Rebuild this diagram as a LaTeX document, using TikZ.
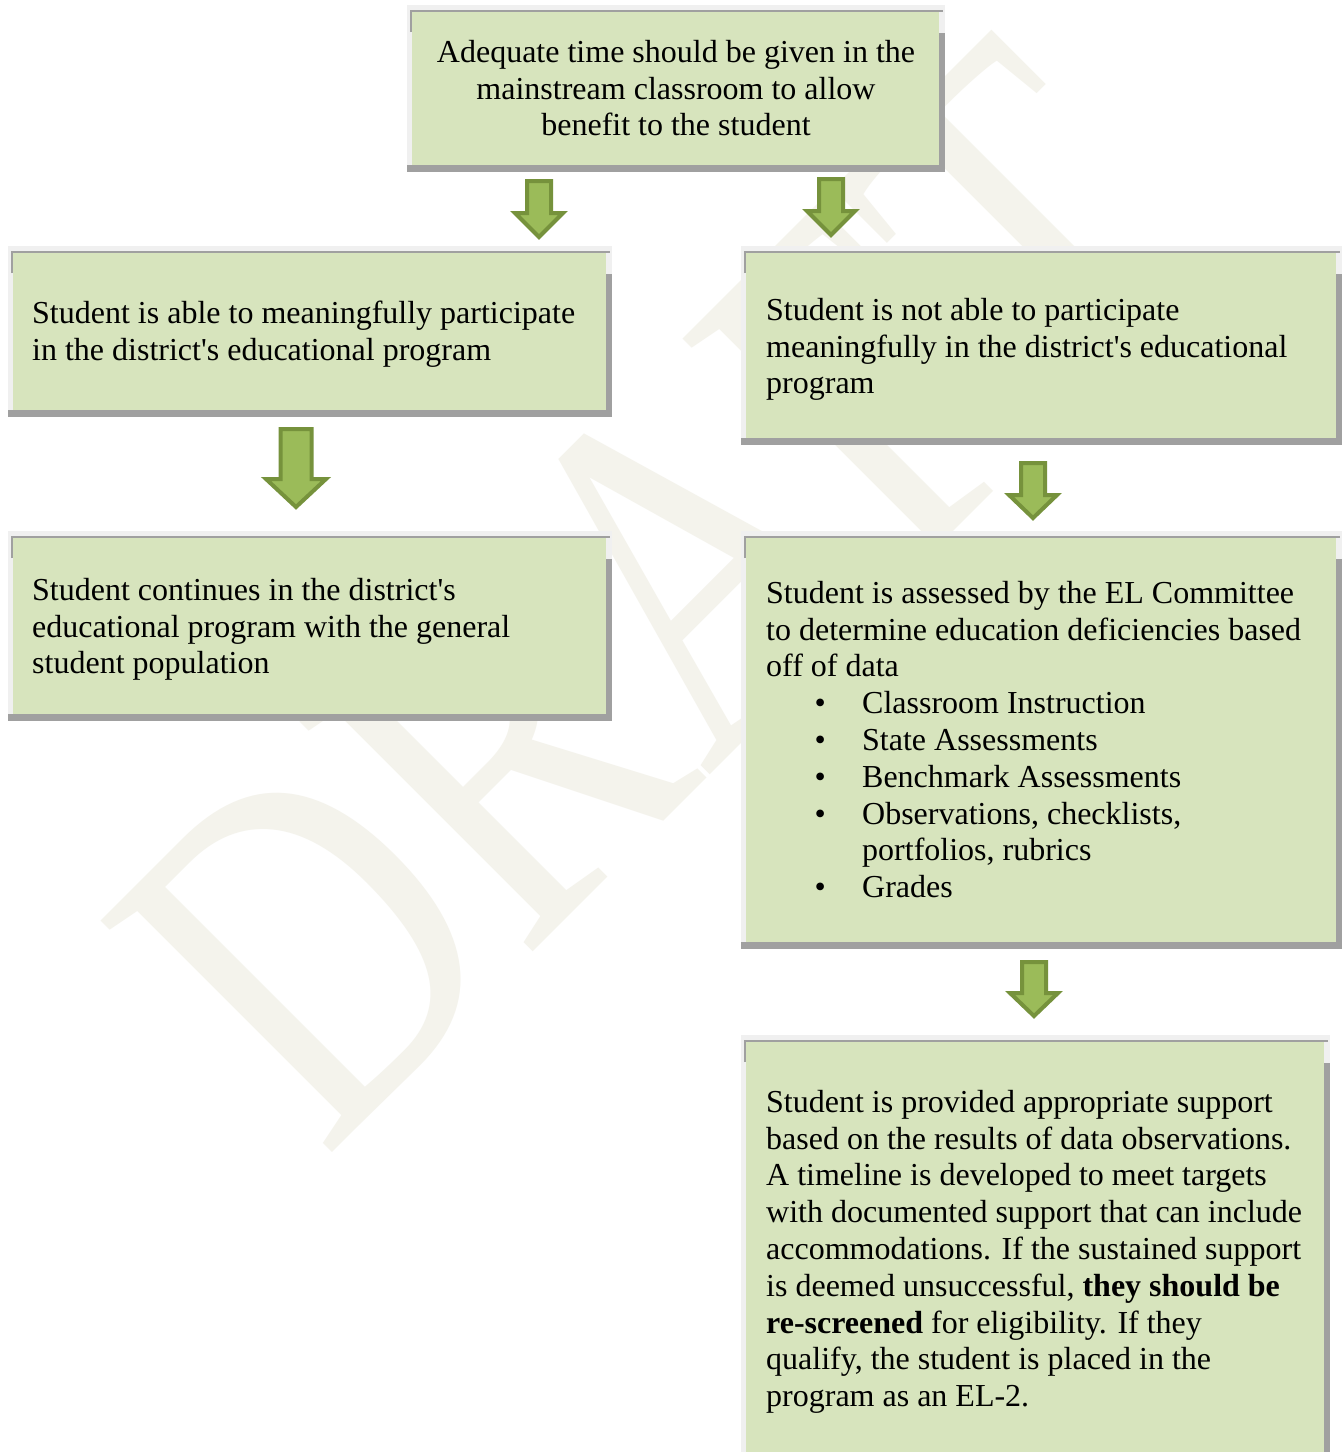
\documentclass[tikz,border=0pt]{standalone}
\usepackage{fontspec}
\setmainfont{Liberation Serif}
\definecolor{boxgreen}{HTML}{D7E4BD}
\definecolor{shadowgray}{HTML}{A0A0A0}
\definecolor{bandgray}{HTML}{F0F0F0}
\definecolor{arrowfill}{HTML}{9BBB59}
\definecolor{arrowline}{HTML}{76923C}
\definecolor{wmark}{HTML}{F4F3EC}
\tikzset{
  greenbox/.style={rectangle, fill=boxgreen, draw=none, inner sep=0pt, anchor=north west},
  boxtext/.style={inner sep=0pt, font=\fontsize{32}{36.8}\selectfont, text=black},
  blockarrow/.style={fill=arrowfill, draw=arrowline, line width=4pt, line join=miter},
  topline/.style={draw=shadowgray, line width=2pt},
  watermark/.style={inner sep=0pt, font=\fontsize{500}{500}\selectfont, text=wmark, rotate=45, anchor=base west}
}
\newcommand\flowbox[5]{%
  \pgfmathsetmacro{\bw}{#3-#1-11}%
  \pgfmathsetmacro{\bh}{#4-#2-14}%
  \fill[bandgray] (#1,#2) rectangle (#3,#4);
  \node[greenbox, minimum width=\bw pt, minimum height=\bh pt] (#5) at ({#1+5},{#2+7}) {};
  \fill[shadowgray] (#1,{#4-7}) rectangle (#3,#4);
  \fill[shadowgray] ({#3-6},{#2+28}) rectangle (#3,#4);
  \draw[topline] ({#1+4},{#2+27}) -- ({#1+4},{#2+6}) -- ({#3-2},{#2+6});
}
\newcommand\blockdown[6]{%
  \draw[blockarrow] ({#1-#5},#2) -- ({#1+#5},#2) -- ({#1+#5},#3) -- ({#1+#6},#3)
    -- (#1,#4) -- ({#1-#6},#3) -- ({#1-#5},#3) -- cycle;
}
\newcommand\fl{\rule{0pt}{25pt}}
\newcommand\ap{\textquotesingle}
\newcommand\bul[1]{\hspace*{54pt}\makebox[0pt]{•}\hspace*{42pt}#1}
\begin{document}
\begin{tikzpicture}[x=1pt,y=-1pt]
\useasboundingbox (0,0) rectangle (1342,1452);
\fill[white] (0,0) rectangle (1342,1452);
% watermark
\node[watermark] (wm) at (324,1161) {\scalebox{0.78}[1]{DRAFT}};
% boxes
\flowbox{407}{5}{945}{172}{b0}
\flowbox{8}{246}{612}{417}{b1}
\flowbox{741}{246}{1342}{445}{b2}
\flowbox{8}{531}{612}{721}{b3}
\flowbox{741}{531}{1342}{949}{b4}
\flowbox{741}{1035}{1330}{1480}{b5}
% arrows
\blockdown{539}{181}{213}{237}{12}{24}
\blockdown{831}{179}{211}{235}{12}{24}
\blockdown{296}{429}{479}{507}{15.5}{30}
\blockdown{1033}{463}{495}{518}{12}{24}
\blockdown{1034}{962}{993}{1016}{12}{24}
% texts
\node[boxtext, anchor=north, align=center] (t0) at (676,37)
  {\fl Adequate time should be given in the\\mainstream classroom to allow\\benefit to the student};
\node[boxtext, anchor=north west, align=left] (t1) at (32,298)
  {\fl Student is able to meaningfully participate\\in the district\ap s educational program};
\node[boxtext, anchor=north west, align=left] (t2) at (766,295)
  {\fl Student is not able to participate\\meaningfully in the district\ap s educational\\program};
\node[boxtext, anchor=north west, align=left] (t3) at (32,575)
  {\fl Student continues in the district\ap s\\educational program with the general\\student population};
\node[boxtext, anchor=north west, align=left] (t4) at (766,578)
  {\fl Student is assessed by the EL Committee\\to determine education deficiencies based\\off of data\\
   \bul{Classroom Instruction}\\\bul{State Assessments}\\\bul{Benchmark Assessments}\\
   \bul{Observations, checklists,}\\\hspace*{96pt}portfolios, rubrics\\\bul{Grades}};
\node[boxtext, anchor=north west, align=left] (t5) at (766,1087)
  {\fl Student is provided appropriate support\\based on the results of data observations.\\
   A timeline is developed to meet targets\\with documented support that can include\\
   accommodations. If the sustained support\\is deemed unsuccessful, \textbf{they should be}\\
   \textbf{re-screened} for eligibility. If they\\qualify, the student is placed in the\\program as an EL-2.};
\end{tikzpicture}
\end{document}
